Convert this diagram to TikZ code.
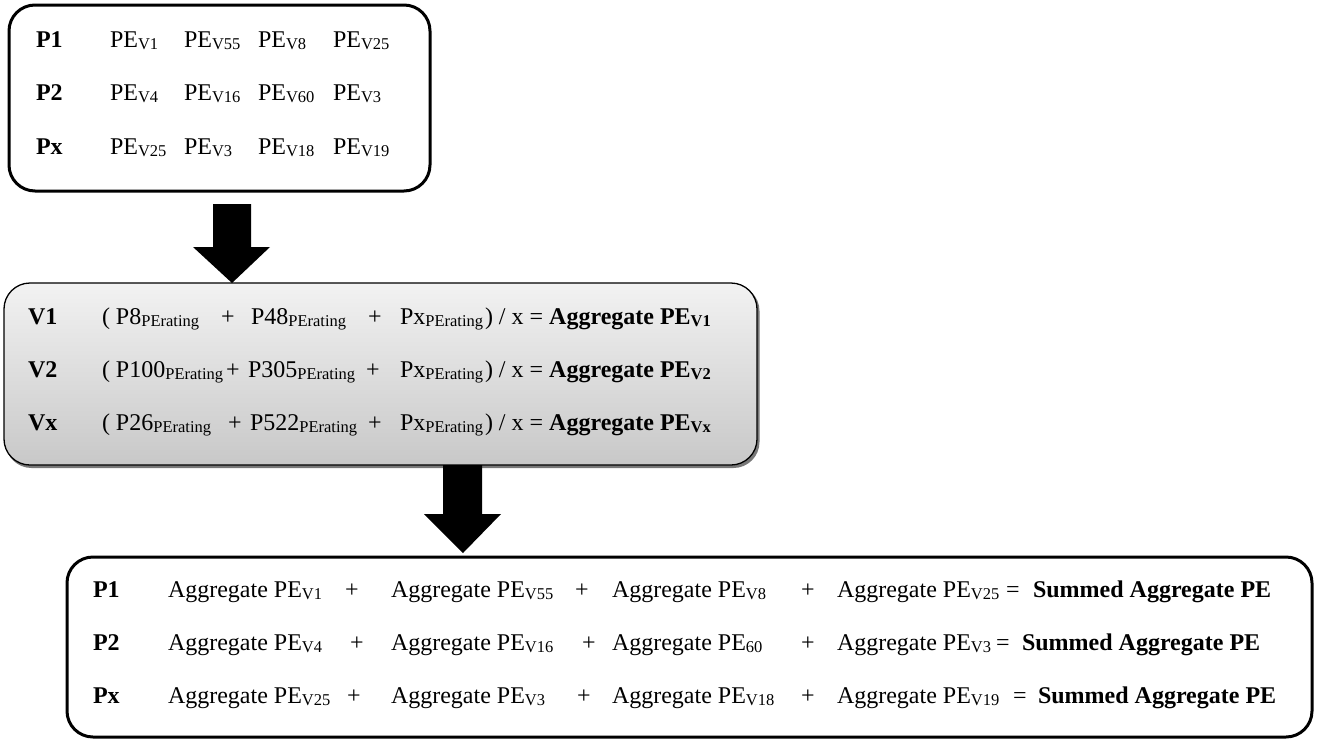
\documentclass[tikz,border=0pt]{standalone}
\usepackage{fontspec}
\setmainfont{Liberation Serif}
\newcommand\lo[1]{\raisebox{-2.7pt}{\fontsize{16.5}{17}\selectfont #1}}
\definecolor{gtop}{RGB}{242,242,242}
\definecolor{gbot}{RGB}{200,200,200}
\definecolor{gshadow}{RGB}{120,120,120}
\begin{document}
\begin{tikzpicture}[x=1pt,y=-1pt,
 txt/.style={anchor=base west, inner sep=0pt, outer sep=0pt, font=\fontsize{24}{28}\selectfont},
 lab/.style={txt, font=\fontsize{24}{28}\selectfont\bfseries},
 plus/.style={anchor=base, inner sep=0pt, outer sep=0pt, font=\fontsize{24}{28}\selectfont},
 whitebox/.style={draw=black, line width=3pt, rounded corners=26pt, fill=white, inner sep=0pt},
 graybox/.style={draw=black, line width=1.3pt, rounded corners=26pt, top color=gtop, bottom color=gbot, inner sep=0pt},
 shadowbox/.style={fill=gshadow, rounded corners=26pt, inner sep=0pt},
 blockarrow/.style={fill=black}]
\useasboundingbox (0,0) rectangle (1322,739);

% boxes
\node[whitebox, minimum width=421pt, minimum height=186pt] (box1) at (219.5,98) {};
\node[shadowbox, minimum width=754pt, minimum height=183pt] (shadow2) at (382.5,376.5) {};
\node[graybox, minimum width=753pt, minimum height=182pt] (box2) at (380.5,374) {};
\node[whitebox, minimum width=1245pt, minimum height=180pt] (box3) at (689.5,647) {};

% block arrows
\fill[blockarrow] (213,204) -- (251,204) -- (251,247) -- (270,247) -- (232,283) -- (193,247) -- (213,247) -- cycle;
\fill[blockarrow] (443,465) -- (482,465) -- (482,514) -- (501,514) -- (463,553) -- (424,514) -- (443,514) -- cycle;

% box 1
\node[lab] (a1) at (36,47) {P1};
\node[txt] (a11) at (110,47) {PE\lo{V1}};
\node[txt] (a12) at (184,47) {PE\lo{V55}};
\node[txt] (a13) at (258,47) {PE\lo{V8}};
\node[txt] (a14) at (333,47) {PE\lo{V25}};
\node[lab] (a2) at (36,100) {P2};
\node[txt] (a21) at (110,100) {PE\lo{V4}};
\node[txt] (a22) at (184,100) {PE\lo{V16}};
\node[txt] (a23) at (258,100) {PE\lo{V60}};
\node[txt] (a24) at (333,100) {PE\lo{V3}};
\node[lab] (a3) at (36,154) {Px};
\node[txt] (a31) at (110,154) {PE\lo{V25}};
\node[txt] (a32) at (184,154) {PE\lo{V3}};
\node[txt] (a33) at (258,154) {PE\lo{V18}};
\node[txt] (a34) at (333,154) {PE\lo{V19}};

% box 2
\node[lab] (b1) at (28,324) {V1};
\node[txt] (b11) at (102,324) {( P8\lo{PErating}};
\node[plus] (b1p1) at (228,324) {+};
\node[txt] (b12) at (251,324) {P48\lo{PErating}};
\node[plus] (b1p2) at (375,324) {+};
\node[txt] (b13) at (400,324) {Px\lo{PErating}};
\node[txt] (b14) at (485,324) {) / x = \textbf{Aggregate PE\lo{V1}}};

\node[lab] (b2) at (28,377) {V2};
\node[txt] (b21) at (102,377) {( P100\lo{PErating}};
\node[plus] (b2p1) at (233,377) {+};
\node[txt] (b22) at (248,377) {P305\lo{PErating}};
\node[plus] (b2p2) at (373,377) {+};
\node[txt] (b23) at (400,377) {Px\lo{PErating}};
\node[txt] (b24) at (485,377) {) / x = \textbf{Aggregate PE\lo{V2}}};

\node[lab] (b3) at (28,430) {Vx};
\node[txt] (b31) at (102,430) {( P26\lo{PErating}};
\node[plus] (b3p1) at (235,430) {+};
\node[txt] (b32) at (250,430) {P522\lo{PErating}};
\node[plus] (b3p2) at (375,430) {+};
\node[txt] (b33) at (400,430) {Px\lo{PErating}};
\node[txt] (b34) at (485,430) {) / x = \textbf{Aggregate PE\lo{Vx}}};

% box 3
\node[lab] (c1) at (93,597) {P1};
\node[txt] (c11) at (168,597) {Aggregate PE\lo{V1}};
\node[plus] (c1p1) at (352,597) {+};
\node[txt] (c12) at (391,597) {Aggregate PE\lo{V55}};
\node[plus] (c1p2) at (582,597) {+};
\node[txt] (c13) at (612,597) {Aggregate PE\lo{V8}};
\node[plus] (c1p3) at (808,597) {+};
\node[txt] (c14) at (837,597) {Aggregate PE\lo{V25}};
\node[txt] (c1e) at (1006,597) {=};
\node[lab] (c1s) at (1033,597) {Summed Aggregate PE};

\node[lab] (c2) at (93,650) {P2};
\node[txt] (c21) at (168,650) {Aggregate PE\lo{V4}};
\node[plus] (c2p1) at (357,650) {+};
\node[txt] (c22) at (391,650) {Aggregate PE\lo{V16}};
\node[plus] (c2p2) at (589,650) {+};
\node[txt] (c23) at (612,650) {Aggregate PE\lo{60}};
\node[plus] (c2p3) at (808,650) {+};
\node[txt] (c24) at (837,650) {Aggregate PE\lo{V3}};
\node[txt] (c2e) at (996,650) {=};
\node[lab] (c2s) at (1022,650) {Summed Aggregate PE};

\node[lab] (c3) at (93,703) {Px};
\node[txt] (c31) at (168,703) {Aggregate PE\lo{V25}};
\node[plus] (c3p1) at (354,703) {+};
\node[txt] (c32) at (391,703) {Aggregate PE\lo{V3}};
\node[plus] (c3p2) at (584,703) {+};
\node[txt] (c33) at (612,703) {Aggregate PE\lo{V18}};
\node[plus] (c3p3) at (808,703) {+};
\node[txt] (c34) at (837,703) {Aggregate PE\lo{V19}};
\node[txt] (c3e) at (1013,703) {=};
\node[lab] (c3s) at (1038,703) {Summed Aggregate PE};
\end{tikzpicture}
\end{document}
